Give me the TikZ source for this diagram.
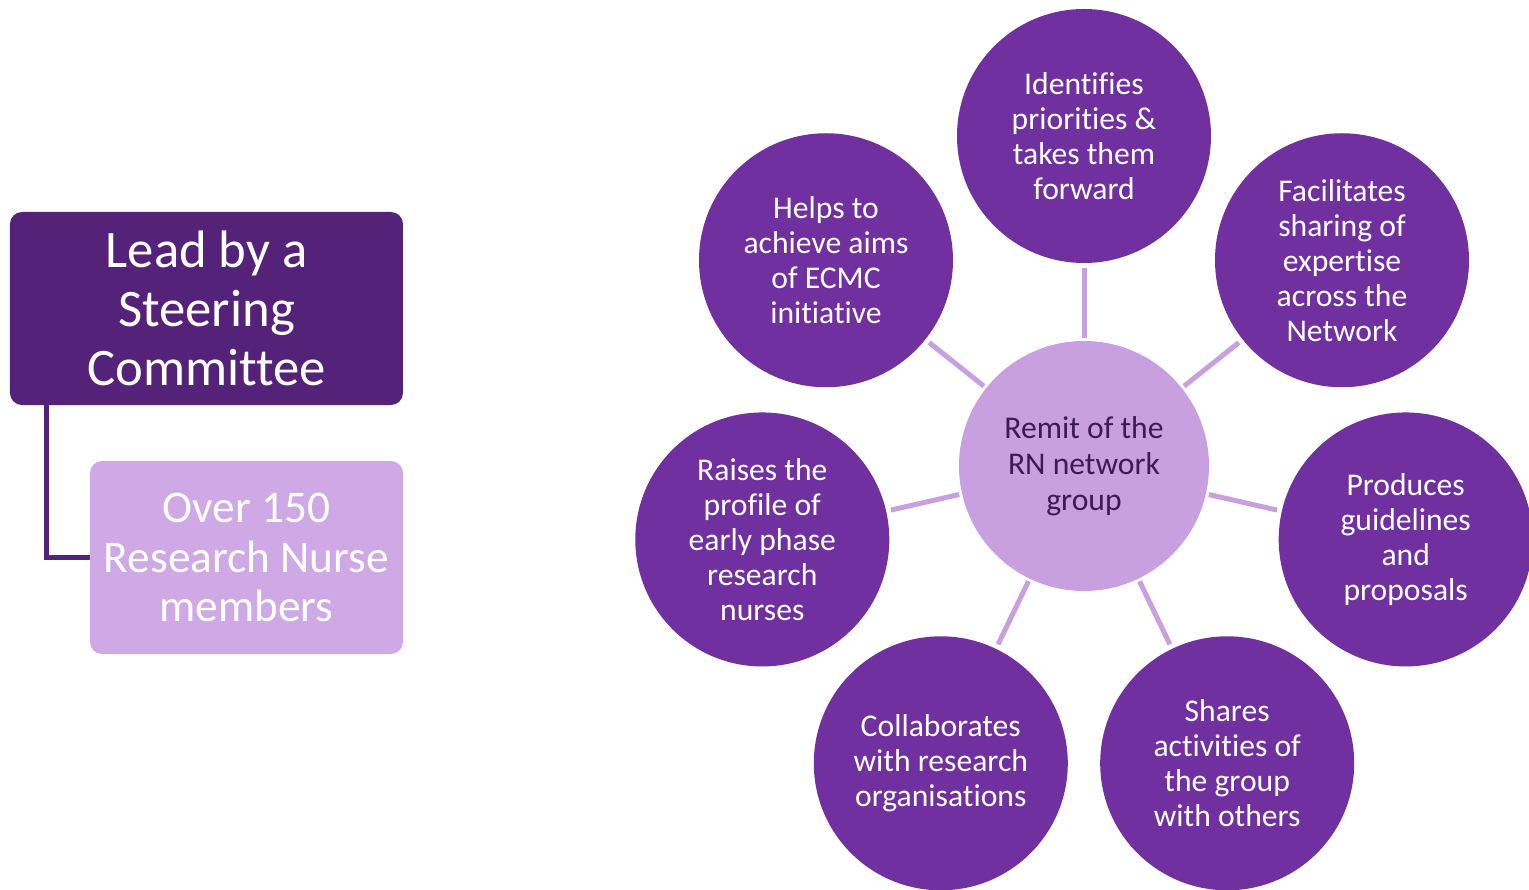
\documentclass[tikz,border=0pt]{standalone}
\usepackage{fontspec}
\setmainfont{Carlito}[Ligatures=NoCommon]
\usepackage{tikz}
\pgfdeclarelayer{edgelayer}
\pgfdeclarelayer{nodelayer}
\pgfsetlayers{edgelayer,nodelayer,main}
\definecolor{hexcolor0x7030a0}{rgb}{0.439,0.188,0.627}
\definecolor{hexcolor0xc8a0e0}{rgb}{0.784,0.627,0.878}
\definecolor{hexcolor0x552279}{rgb}{0.333,0.133,0.475}
\definecolor{hexcolor0xcfa8e6}{rgb}{0.812,0.659,0.902}
\definecolor{hexcolor0x3d1a55}{rgb}{0.239,0.102,0.333}
\definecolor{mywhite}{rgb}{1.000,1.000,1.000}
\tikzstyle{task}=[circle,fill=hexcolor0x7030a0,text=mywhite,minimum size=5.08cm,inner sep=0pt,outer sep=0pt,align=center,font=\fontsize{18}{19.9}\selectfont]
\tikzstyle{remit}=[circle,fill=hexcolor0xc8a0e0,text=hexcolor0x3d1a55,minimum size=5cm,inner sep=0pt,outer sep=0pt,align=center,font=\fontsize{18}{20.4}\selectfont]
\tikzstyle{lead}=[rectangle,rounded corners=0.24cm,fill=hexcolor0x552279,text=mywhite,minimum width=7.86cm,minimum height=3.86cm,align=center,font=\fontsize{30}{33.5}\selectfont]
\tikzstyle{members}=[rectangle,rounded corners=0.24cm,fill=hexcolor0xcfa8e6,text=mywhite,minimum width=6.26cm,minimum height=3.86cm,align=center,font=\fontsize{25.8}{28.4}\selectfont]
\tikzstyle{spoke}=[draw=hexcolor0xc8a0e0,line width=0.1cm,shorten <=0.06cm,shorten >=0.1cm]
\tikzstyle{tie}=[draw=hexcolor0x552279,line width=0.1cm]

\begin{document}
\begin{tikzpicture}
	\useasboundingbox (-21.68, 9.32) rectangle (8.9, -8.46);
	\begin{pgfonlayer}{nodelayer}
		\node [style=remit] (0) at (0, 0) {Remit of the\\RN network\\group};
		\node [style=task] (1) at (0, 6.6) {Identifies\\priorities \&\\takes them\\forward};
		\node [style=task] (2) at (5.16, 4.115) {Facilitates\\sharing of\\expertise\\across the\\Network};
		\node [style=task] (3) at (6.434, -1.469) {Produces\\guidelines\\and\\proposals};
		\node [style=task] (4) at (2.864, -5.946) {Shares\\activities of\\the group\\with others};
		\node [style=task] (5) at (-2.864, -5.946) {Collaborates\\with research\\organisations};
		\node [style=task] (6) at (-6.434, -1.469) {Raises the\\profile of\\early phase\\research\\nurses};
		\node [style=task] (7) at (-5.16, 4.115) {Helps to\\achieve aims\\of ECMC\\initiative};
		\node [style=lead] (10) at (-17.55, 3.15) {Lead by a\\Steering\\Committee};
		\node [style=members] (11) at (-16.75, -1.83) {Over 150\\Research Nurse\\members};
	\end{pgfonlayer}
	\begin{pgfonlayer}{edgelayer}
		\draw [style=spoke] (0) to (1);
		\draw [style=spoke] (0) to (2);
		\draw [style=spoke] (0) to (3);
		\draw [style=spoke] (0) to (4);
		\draw [style=spoke] (0) to (5);
		\draw [style=spoke] (0) to (6);
		\draw [style=spoke] (0) to (7);
		\draw [style=tie] ([xshift=0.74cm]10.south west) |- (11.west);
	\end{pgfonlayer}
\end{tikzpicture}
\end{document}
